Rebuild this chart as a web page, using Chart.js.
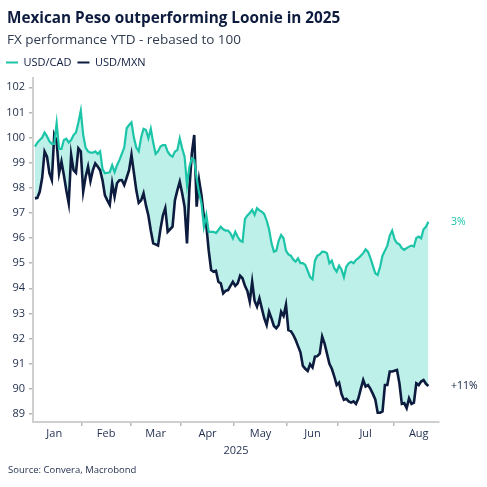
<!DOCTYPE html>
<html><head><meta charset="utf-8">
<script src="https://cdn.jsdelivr.net/npm/chart.js@4.4.1/dist/chart.umd.min.js"></script>
<style>
html,body{margin:0;padding:0;background:#fff;}
#wrap{position:relative;width:487px;height:487px;overflow:hidden;font-family:'Open Sans',sans-serif;}
#c{position:absolute;left:0;top:0;}
.t{position:absolute;left:7px;white-space:nowrap;}
#title{top:7px;line-height:20px;font-size:15.3px;font-weight:700;color:#0d1b3e;}
#sub{top:30px;line-height:18px;font-size:13.5px;color:#2f3b4f;}
#src{left:8px;top:463px;line-height:14px;font-size:9.5px;color:#1f2d4d;}
</style></head><body>
<div id="wrap">
<canvas id="c" width="487" height="487"></canvas>
<div class="t" id="title">Mexican Peso outperforming Loonie in 2025</div>
<div class="t" id="sub">FX performance YTD - rebased to 100</div>
<div class="t" id="src">Source: Convera, Macrobond</div>
</div>
<script>
// ---- data (weekday series, first observation 2025-01-06) ----
const seriesNames = ['USD/CAD', 'USD/MXN'];
const firstDate = '2025-01-06';
const usdCad = [
99.64,99.8,99.9,100.0,100.2,100.05,99.85,99.75,99.75,100.58,
99.55,99.55,99.9,99.95,99.8,99.9,100.1,100.2,100.6,101.07,
100.1,99.6,99.45,99.4,99.4,99.45,99.35,99.45,98.75,98.58,
98.6,98.62,98.9,98.62,98.9,99.1,99.35,99.6,100.37,100.5,
100.6,100.0,99.6,99.45,100.0,100.35,100.3,99.97,100.35,99.8,
99.35,99.45,99.64,99.7,99.7,99.44,99.3,99.24,99.44,99.5,
99.97,99.57,99.24,98.11,98.84,99.17,99.1,98.38,97.8,97.38,
96.45,96.92,96.25,96.25,96.25,96.2,96.32,96.45,96.35,96.3,
96.3,96.19,95.99,96.25,96.05,95.9,95.85,96.75,96.9,97.0,
97.12,96.92,97.19,97.1,97.05,96.95,96.7,96.35,95.8,95.46,
95.5,95.9,96.12,95.99,95.5,95.35,95.3,95.15,95.06,95.19,
95.0,95.0,94.93,94.7,94.45,94.36,95.1,95.3,95.35,95.46,
95.45,95.4,95.0,95.1,94.8,94.66,94.9,94.75,94.44,94.86,
95.0,95.06,95.0,95.13,95.2,95.3,95.4,95.55,95.45,95.2,
94.9,94.6,94.53,94.86,95.3,95.5,95.7,96.1,96.3,95.95,
95.8,95.75,95.6,95.53,95.6,95.66,95.7,95.66,96.0,96.06,
95.99,96.35,96.45,96.65
];
const usdMxn = [
97.58,97.6,97.85,98.4,99.44,99.24,98.58,98.31,100.1,99.84,
98.58,99.04,98.5,97.9,97.38,99.31,98.7,98.6,99.57,99.45,
97.85,98.44,98.84,98.27,98.7,98.97,98.85,98.7,98.3,97.7,
97.5,97.32,98.18,97.65,98.18,98.3,98.31,98.11,98.4,98.7,
99.31,98.6,97.9,97.4,97.5,97.78,97.3,96.9,96.3,95.79,
95.75,95.7,96.35,96.9,97.19,96.25,96.35,96.45,97.51,97.9,
98.24,97.78,97.25,95.79,97.98,99.37,100.1,97.25,98.31,97.71,
96.85,96.5,95.5,94.73,94.66,94.7,94.26,94.2,93.8,93.9,
93.93,94.1,94.26,94.1,94.2,94.5,94.4,94.1,93.9,93.47,
94.26,93.5,93.27,93.6,93.2,92.81,92.54,93.07,92.8,92.5,
92.41,92.54,93.07,92.9,93.34,92.34,92.3,92.15,91.95,91.7,
91.45,90.91,90.8,90.71,90.98,90.85,91.28,91.3,91.4,92.08,
91.8,91.4,91.0,90.8,90.5,90.15,90.25,89.8,89.56,89.6,
89.5,89.45,89.5,89.4,89.62,90.0,90.35,90.09,90.15,90.0,
89.8,89.58,89.05,89.05,89.1,90.15,90.15,90.69,90.69,90.72,
90.75,90.22,89.4,89.43,89.23,89.62,89.4,89.45,90.22,90.15,
90.29,90.35,90.2,90.11
];
const endLabels = ['3%', '+11%'];
const monthNames = ['Jan','Feb','Mar','Apr','May','Jun','Jul','Aug'];
const yTicks = [89,90,91,92,93,94,95,96,97,98,99,100,101,102];
const axisYear = '2025';

// ---- style ----
const FONT = "'Open Sans', sans-serif";
const NAVY = '#0d1b3e';
const TICK = '#1f2d4d';
const TEAL = '#1cc4a8';
const FILL = '#bdf0e9';
const AXIS = '#cfcfcf';

// ---- weekday calendar -> month ticks ----
const DAY = 86400000;
const firstT = Date.parse(firstDate + 'T00:00:00Z');
const months = [];
let k = 0, offset = 0;
for (let t = Date.UTC(2025, 0, 1); t < Date.UTC(2025, 8, 1); t += DAY) {
  const d = new Date(t); const w = d.getUTCDay();
  if (w === 0 || w === 6) continue;
  if (t === firstT) offset = k;
  const m = d.getUTCMonth();
  if (!months[m]) months[m] = {s: k, e: k};
  months[m].e = k; k++;
}
const boundaries = months.slice(1).map(m => m.s - offset - 0.5);
const centers = months.map(m => (m.s + m.e) / 2 - offset);
const isBoundary = v => boundaries.some(b => Math.abs(b - v) < 1e-6);
const labelAt = v => { const i = centers.findIndex(c => Math.abs(c - v) < 1e-6); return i >= 0 ? monthNames[i] : ''; };

const toXY = arr => arr.map((v, i) => ({x: i, y: v}));

const endLabelPlugin = {
  id: 'endLabels',
  afterDatasetsDraw(chart) {
    const ctx = chart.ctx;
    chart.data.datasets.forEach((ds, i) => {
      const meta = chart.getDatasetMeta(i);
      const pt = meta.data[meta.data.length - 1];
      ctx.save();
      ctx.font = '10.5px ' + FONT;
      ctx.fillStyle = i === 0 ? TEAL : NAVY;
      ctx.textBaseline = 'middle';
      ctx.textAlign = 'left';
      ctx.fillText(endLabels[i], chart.chartArea.right + 12, pt.y);
      ctx.restore();
    });
  }
};

new Chart(document.getElementById('c'), {
  type: 'line',
  data: {
    datasets: [
      { label: seriesNames[0], data: toXY(usdCad), borderColor: TEAL, borderWidth: 2.2,
        backgroundColor: FILL, fill: {target: 1, above: FILL, below: FILL}, pointRadius: 0, tension: 0 },
      { label: seriesNames[1], data: toXY(usdMxn), borderColor: NAVY, borderWidth: 2.6,
        backgroundColor: NAVY, fill: false, pointRadius: 0, tension: 0 }
    ]
  },
  options: {
    responsive: false,
    animation: false,
    devicePixelRatio: 1,
    layout: { padding: {top: 51, left: 0, right: 48, bottom: 25} },
    plugins: {
      filler: { drawTime: 'beforeDatasetsDraw' },
      tooltip: { enabled: false },
      legend: {
        display: true, position: 'top', align: 'start',
        labels: {
          boxWidth: 12, boxHeight: 2, padding: 6, color: NAVY,
          font: {family: FONT, size: 11},
          generateLabels: chart => chart.data.datasets.map((d, i) => ({
            text: d.label, fillStyle: d.borderColor, strokeStyle: d.borderColor,
            lineWidth: 0, datasetIndex: i, fontColor: NAVY, hidden: false
          }))
        }
      },
      title: { display: false }
    },
    scales: {
      x: {
        type: 'linear', min: -0.8, max: 167.4,
        afterBuildTicks: s => { s.ticks = boundaries.concat(centers).sort((a, b) => a - b).map(v => ({value: v})); },
        afterFit: s => { s.height = 40; },
        ticks: { autoSkip: false, maxRotation: 0, padding: 1, color: TICK,
          font: {family: FONT, size: 11}, callback: v => labelAt(v) },
        grid: { drawOnChartArea: false, drawTicks: true, tickLength: 4, lineWidth: 1.5,
          color: ctx => (ctx.tick && isBoundary(ctx.tick.value)) ? '#b8b8b8' : 'rgba(0,0,0,0)' },
        border: { color: AXIS, width: 2 },
        title: { display: true, text: axisYear, color: TICK, font: {family: FONT, size: 11}, padding: {top: 0, bottom: 5} }
      },
      y: {
        type: 'linear', min: 88.68, max: 102.37,
        afterBuildTicks: s => { s.ticks = yTicks.map(v => ({value: v})); },
        afterFit: s => { s.width = 33; },
        ticks: { padding: 4, color: TICK, font: {family: FONT, size: 11} },
        grid: { drawOnChartArea: false, drawTicks: true, tickLength: 4, lineWidth: 1.5, color: '#b8b8b8' },
        border: { color: AXIS, width: 2 }
      }
    }
  },
  plugins: [endLabelPlugin]
});
</script>
</body></html>
